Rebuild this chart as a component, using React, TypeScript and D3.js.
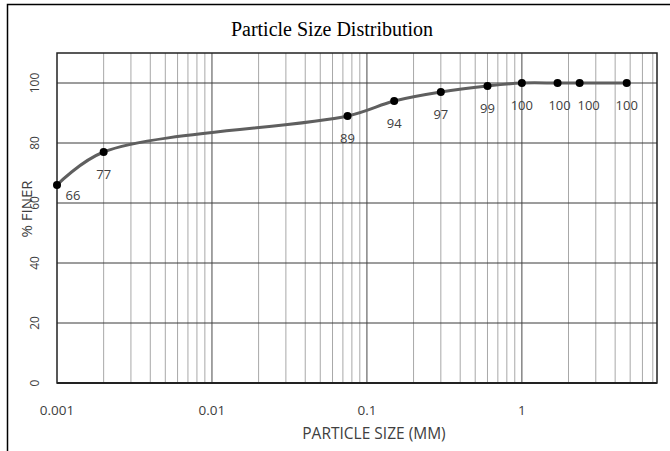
import React from "react";
import * as d3 from "d3";

const sizes = [0.001, 0.002, 0.075, 0.15, 0.3, 0.6, 1, 1.7, 2.36, 4.75];
const finer = [66, 77, 89, 94, 97, 99, 100, 100, 100, 100];
const xTickValues = [0.001, 0.01, 0.1, 1];
const xTickLabels = ["0.001", "0.01", "0.1", "1"];
const yTickValues = [0, 20, 40, 60, 80, 100];

const W = 670;
const H = 451;
const left = 57, right = 657, top = 53, bottom = 383;

export default function App() {
  const x = d3.scaleLog().domain([0.001, 7.45]).range([left, right]);
  const y = d3.scaleLinear().domain([0, 110]).range([bottom, top]);

  const minor: number[] = [];
  for (let e = -3; e <= 0; e++) {
    for (let m = 1; m <= 9; m++) {
      const v = m * Math.pow(10, e);
      if (v > 0.001 && v < 7.45 && m !== 1) minor.push(v);
    }
  }
  const major = [0.01, 0.1, 1];

  const pts: [number, number][] = sizes.map((s, i) => [x(s), y(finer[i])]);
  const line = d3.line().curve(d3.curveCatmullRom.alpha(0.5))(pts) || "";

  const font = "'Open Sans', 'Noto Sans', sans-serif";

  // label placement: below each point; first one to the right, crowded ones nudged
  const labelDx = (i: number) => (i === 0 ? 16 : i === 8 ? 9 : i === 7 ? 2 : 0);
  const labelDy = (i: number) => (i === 0 ? 15 : 27);

  return (
    <svg width={W} height={H} style={{ position: "absolute", left: 0, top: 0, background: "#fff" }}>
      <rect x={0} y={0} width={W} height={H} fill="#fff" />
      <rect x={7.5} y={4.5} width={W + 20} height={H + 20} fill="none" stroke="#000" strokeWidth={1.5} />
      <text x={332} y={36} textAnchor="middle" fontFamily="'Liberation Serif', 'Times New Roman', serif" fontSize={20} fill="#000">
        Particle Size Distribution
      </text>
      {minor.map((v) => (
        <line key={"mi" + v} x1={x(v)} x2={x(v)} y1={top} y2={bottom} stroke="#a8a8a8" strokeWidth={1} />
      ))}
      {major.map((v) => (
        <line key={"ma" + v} x1={x(v)} x2={x(v)} y1={top} y2={bottom} stroke="#666" strokeWidth={1.2} />
      ))}
      {yTickValues.slice(1).map((v) => (
        <line key={"h" + v} x1={left} x2={right} y1={y(v)} y2={y(v)} stroke="#3a3a3a" strokeWidth={1} />
      ))}
      <rect x={left} y={top} width={right - left} height={bottom - top} fill="none" stroke="#222" strokeWidth={1.5} />
      <line x1={left} x2={right} y1={bottom} y2={bottom} stroke="#222" strokeWidth={2} />
      <path d={line} fill="none" stroke="#5f5f5f" strokeWidth={3} />
      {pts.map((p, i) => (
        <circle key={"c" + i} cx={p[0]} cy={p[1]} r={4} fill="#000" />
      ))}
      {pts.map((p, i) => (
        <text
          key={"l" + i}
          x={p[0] + labelDx(i)}
          y={p[1] + labelDy(i)}
          textAnchor="middle"
          fontFamily={font}
          fontSize={13}
          fill="#404040"
        >
          {finer[i]}
        </text>
      ))}
      {yTickValues.map((v) => (
        <text
          key={"yt" + v}
          transform={`translate(39,${y(v)}) rotate(-90)`}
          textAnchor="middle"
          fontFamily={font}
          fontSize={12}
          fill="#404040"
        >
          {v}
        </text>
      ))}
      {xTickValues.map((v, i) => (
        <text key={"xt" + v} x={x(v)} y={415} textAnchor="middle" fontFamily={font} fontSize={13.5} fill="#404040">
          {xTickLabels[i]}
        </text>
      ))}
      <text x={374} y={439} textAnchor="middle" fontFamily={font} fontSize={15.5} fill="#404040">
        PARTICLE SIZE (MM)
      </text>
      <text transform={`translate(32,209) rotate(-90)`} textAnchor="middle" fontFamily={font} fontSize={15} fill="#404040">
        % FINER
      </text>
    </svg>
  );
}
